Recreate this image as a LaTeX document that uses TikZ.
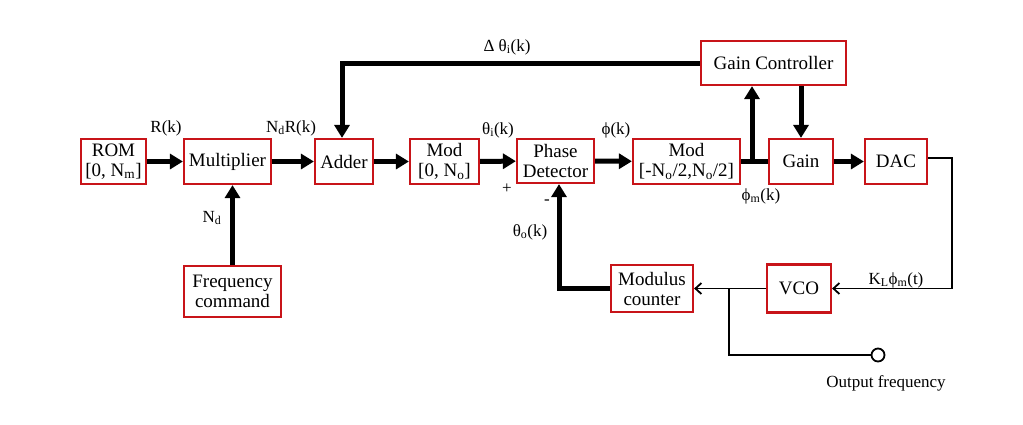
\documentclass[tikz,border=0pt]{standalone}
\usepackage{fontspec}
\setmainfont{Liberation Serif}
\usetikzlibrary{arrows.meta}
\definecolor{boxred}{RGB}{200,20,25}
\begin{document}
\begin{tikzpicture}[x=1pt,y=-1pt,
  blk/.style={draw=boxred,line width=2.2pt,fill=white,inner sep=0pt,align=center,
    font=\fontsize{19}{20}\selectfont,minimum height=45pt},
  lbl/.style={inner sep=0pt,font=\fontsize{17}{17}\selectfont},
  thickarr/.style={line width=5pt,-{Triangle[length=13pt,width=15pt]}},
  thickln/.style={line width=5pt},
  thinarr/.style={line width=1.8pt,-{Straight Barb[length=6pt,width=11pt,line width=1.8pt]}},
  thinln/.style={line width=1.8pt}]
\useasboundingbox (0,0) rectangle (1023,424);
\node[blk,minimum width=65pt] (rom) at (113.5,161.5) {ROM\\{}[0, N\textsubscript{m}]};
\node[blk,minimum width=87pt] (mult) at (227.5,161.5) {Multiplier};
\node[blk,minimum width=58pt] (add) at (344,161.5) {Adder};
\node[blk,minimum width=69pt] (mod0) at (444.5,161.5) {Mod\\{}[0, N\textsubscript{o}]};
\node[blk,minimum width=77pt,minimum height=44pt] (pd) at (555.5,161) {Phase\\Detector};
\node[blk,minimum width=107pt] (mod2) at (686.5,161.5) {Mod\\{}[-N\textsubscript{o}/2,N\textsubscript{o}/2]};
\node[blk,minimum width=64pt] (gain) at (801,161.5) {Gain};
\node[blk,minimum width=62pt] (dac) at (896,161.5) {DAC};
\node[blk,minimum width=145pt,minimum height=44pt] (gc) at (773.5,63) {Gain Controller};
\node[blk,minimum width=97pt,minimum height=51pt] (freq) at (232.5,291.5) {Frequency\\command};
\node[blk,minimum width=82pt,minimum height=47pt] (mc) at (652,288.5) {Modulus\\counter};
\node[blk,minimum width=64pt,minimum height=48pt] (vco) at (799,288.5) {VCO};
% coordinates
\coordinate (gcl) at (342,63);
\coordinate (junc) at (752,161.5);
\coordinate (dacr) at (927,158);
\coordinate (c1) at (952,158);
\coordinate (c2) at (952,288.5);
\coordinate (j2) at (729,288.5);
\coordinate (j3) at (729,355);
\node[draw,line width=1.8pt,circle,minimum size=13pt,inner sep=0pt] (out) at (878,355) {};
\coordinate (fb) at (559,288.5);
% thick connectors
\draw[thickarr] (rom) -- (mult);
\draw[thickarr] (mult) -- (add);
\draw[thickarr] (add) -- (mod0);
\draw[thickarr] (mod0) -- (pd);
\draw[thickarr] (pd) -- (mod2);
\draw[thickln] (mod2) -- (gain);
\draw[thickarr] (junc) -- (junc |- gc.south);
\draw[thickarr] (gc.south -| gain) -- (gain);
\draw[thickarr] (gain) -- (dac);
\draw[thickln,line join=miter] (gc.west) -- (gcl) -- ++(0,2.5);
\draw[thickarr] (gcl) -- (gcl |- add.north);
\draw[thickarr] (freq.north) -- (freq.north |- mult.south);
\draw[thickln] (mc.west) -- ([xshift=-2.5pt]fb);
\draw[thickarr] (fb) -- (fb |- pd.south);
% thin connectors
\draw[thinln] (dac.east |- dacr) -- (c1) -- (c2);
\draw[thinarr] (c2) -- (vco.east);
\draw[thinarr] (vco.west) -- (mc.east);
\draw[thinln] (j2) -- (j3) -- (out.west);
% labels
\node[lbl] (l1) at (166,128) {R(k)};
\node[lbl] (l2) at (291,128) {N\textsubscript{d}R(k)};
\node[lbl] (l3) at (212,218) {N\textsubscript{d}};
\node[lbl] (l4) at (507,47) {Δ θ\textsubscript{i}(k)};
\node[lbl] (l5) at (498,130) {θ\textsubscript{i}(k)};
\node[lbl] (l6) at (616,130) {ϕ(k)};
\node[lbl] (l7) at (507,189) {+};
\node[lbl] (l8) at (547,202) {-};
\node[lbl] (l9) at (530,232) {θ\textsubscript{o}(k)};
\node[lbl] (l10) at (761,196) {ϕ\textsubscript{m}(k)};
\node[lbl] (l11) at (896,280) {K\textsubscript{L}ϕ\textsubscript{m}(t)};
\node[lbl] (l12) at (886,383) {Output frequency};
\end{tikzpicture}
\end{document}
